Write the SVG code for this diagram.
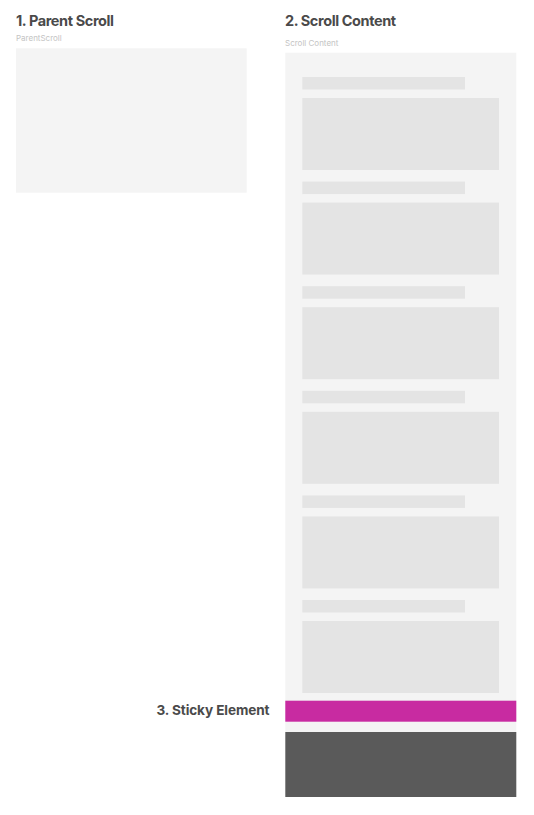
<svg xmlns="http://www.w3.org/2000/svg" width="534" height="815" viewBox="0 0 534 815">
<style>
.title{font-family:Inter,"Liberation Sans",sans-serif;font-weight:700;font-size:14.5px;letter-spacing:-0.4px;fill:#4a4a4a}
.sub{font-family:Inter,"Liberation Sans",sans-serif;font-size:8px;fill:#c4c4c4}
.panel{fill:#f4f4f4}
.bar{fill:#e4e4e4}
</style>
<rect width="534" height="815" fill="#ffffff"/>
<g id="parent-scroll">
<text class="title" x="16" y="26">1. Parent Scroll</text>
<text class="sub" x="16" y="41">ParentScroll</text>
<rect class="panel" x="16" y="48.3" width="230.7" height="144.4"/>
</g>
<g id="scroll-content">
<text class="title" x="285" y="26">2. Scroll Content</text>
<text class="sub" x="285" y="45.5">Scroll Content</text>
<rect class="panel" x="285.3" y="52.7" width="231" height="679.3"/>
<g id="items">
<rect class="bar" x="302.3" y="77" width="162.7" height="12.5"/>
<rect class="bar" x="302.3" y="98" width="196.7" height="72"/>
<rect class="bar" x="302.3" y="181.6" width="162.7" height="12.5"/>
<rect class="bar" x="302.3" y="202.6" width="196.7" height="72"/>
<rect class="bar" x="302.3" y="286.2" width="162.7" height="12.5"/>
<rect class="bar" x="302.3" y="307.2" width="196.7" height="72"/>
<rect class="bar" x="302.3" y="390.8" width="162.7" height="12.5"/>
<rect class="bar" x="302.3" y="411.8" width="196.7" height="72"/>
<rect class="bar" x="302.3" y="495.4" width="162.7" height="12.5"/>
<rect class="bar" x="302.3" y="516.4" width="196.7" height="72"/>
<rect class="bar" x="302.3" y="600" width="162.7" height="12.5"/>
<rect class="bar" x="302.3" y="621" width="196.7" height="72"/>
</g>
</g>
<g id="sticky-element">
<text class="title" x="269.5" y="714.5" text-anchor="end" style="font-size:13.6px;letter-spacing:-0.1px">3. Sticky Element</text>
<rect x="285.3" y="700.7" width="231" height="21" fill="#c82ba1"/>
</g>
<g id="footer">
<rect x="285.3" y="732" width="231" height="65" fill="#5a5a5a"/>
</g>
<g id="connectors"></g>
</svg>
